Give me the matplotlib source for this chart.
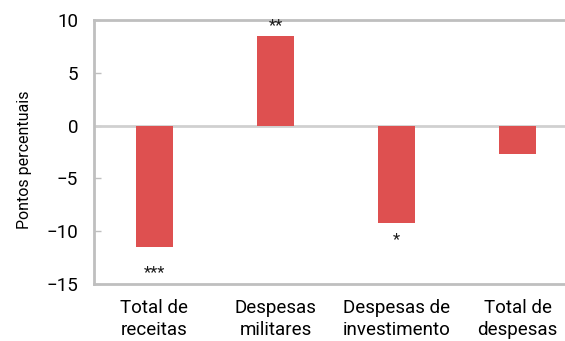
import matplotlib
matplotlib.use("Agg")
import matplotlib.pyplot as plt

categories = ["Total de\nreceitas", "Despesas\nmilitares", "Despesas de\ninvestimento", "Total de\ndespesas"]
values = [-11.5, 8.5, -9.2, -2.7]
stars = ["***", "**", "*", ""]
yticks = [-15, -10, -5, 0, 5, 10]
ytick_labels = ["\u221215", "\u221210", "\u22125", "0", "5", "10"]

plt.rcParams["font.family"] = ["Roboto", "DejaVu Sans"]

bar_color = "#DE5050"
axis_color = "#BFBFBF"

fig = plt.figure(figsize=(5.65, 3.41), dpi=100)
ax = fig.add_axes([94 / 565, 1 - 284 / 341, 484 / 565, 264 / 341])

x = list(range(len(categories)))
ax.bar(x, values, width=0.31, color=bar_color, zorder=3)
ax.axhline(0, color="#D0D0D0", lw=2, zorder=2)

# significance markers: above positive bars, below negative ones
star_gap = [1.7, 0.3, 0.9, 0.0]
for xi, v, s, g in zip(x, values, stars, star_gap):
    if not s:
        continue
    if v >= 0:
        ax.text(xi, v + g, s, ha="center", va="bottom", fontsize=12, color="#1A1A1A")
    else:
        ax.text(xi, v - g, s, ha="center", va="top", fontsize=12, color="#1A1A1A")

ax.set_xlim(-0.5, len(categories) - 0.5)
ax.set_ylim(-15, 10)
ax.set_yticks(yticks)
ax.set_yticklabels(ytick_labels, fontsize=13.5)
ax.set_xticks(x)
ax.set_xticklabels(categories, fontsize=13.5, linespacing=1.25)
ax.tick_params(axis="x", length=0, pad=11)
ax.tick_params(axis="y", direction="in", length=5, width=1, color=axis_color, pad=11.5)
ax.set_ylabel("Pontos percentuais", fontsize=11.5)
ax.yaxis.set_label_coords(-0.128, 0.47)

for side in ["top", "bottom", "left", "right"]:
    ax.spines[side].set_color(axis_color)
    ax.spines[side].set_linewidth(2)

fig.savefig("out.png", dpi=100)
